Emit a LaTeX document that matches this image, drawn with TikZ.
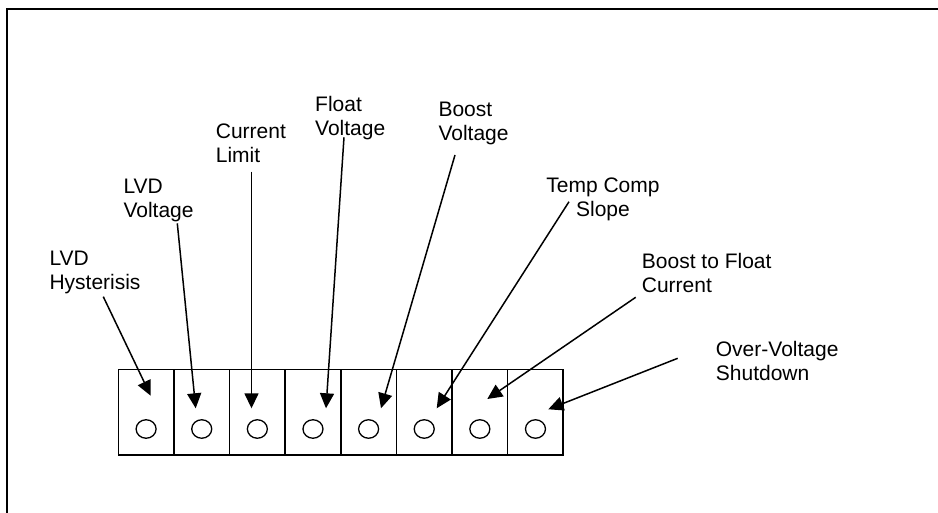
\documentclass[tikz,border=0pt]{standalone}
\usepackage{fontspec}
\setmainfont{Liberation Sans}
\usetikzlibrary{arrows.meta,shapes.geometric}
\begin{document}
\begin{tikzpicture}[x=1pt,y=-1pt,
  cell/.style={draw,line width=1.6pt,rectangle,inner sep=0pt,minimum width=55.6pt,minimum height=85.4pt},
  hole/.style={draw,line width=1.3pt,ellipse,inner sep=0pt,minimum width=20pt,minimum height=18.5pt},
  lbl/.style={inner sep=0pt,anchor=base west,align=left,font=\fontsize{21}{24}\selectfont},
  ptr/.style={line width=1.5pt,-{Triangle[length=15pt,width=14pt]}}]
\useasboundingbox (0,0) rectangle (938,513);
% outer frame (partly visible)
\coordinate (fbl) at (6.5,513);
\coordinate (ftl) at (6.5,9.5);
\coordinate (ftr) at (938,9.5);
\draw[line width=2pt] (fbl) -- (ftl) -- (ftr);
% cells and holes
\foreach \i in {1,...,8}{
  \node[cell] (c\i) at ({146.1+55.625*(\i-1)},412) {};
  \node[hole] (k\i) at ({146.1+55.625*(\i-1)},429) {};
}
% labels (anchor = baseline of last line)
\node[lbl] (t1) at (49.3,289.3) {LVD\\Hysterisis};
\node[lbl] (t2) at (123.3,217.8) {LVD\\Voltage};
\node[lbl] (t3) at (215.7,162.8) {Current\\Limit};
\node[lbl] (t4) at (315,136) {Float\\Voltage};
\node[lbl] (t5) at (438.3,140.3) {Boost\\Voltage};
\node[lbl,align=center,anchor=base] (t6) at (603,216.2) {Temp Comp\\Slope};
\node[lbl] (t7) at (641.7,292.8) {Boost to Float\\Current};
\node[lbl] (t8) at (715.7,380.3) {Over-Voltage\\Shutdown};
% arrow ends
\coordinate (a1) at (103.3,296.7); \coordinate (b1) at (150.7,395.7);
\coordinate (a2) at (177.3,223.3); \coordinate (b2) at (195.7,408.3);
\coordinate (a3) at (251.5,171.7); \coordinate (b3) at (251.5,408.3);
\coordinate (a4) at (344,137.3);   \coordinate (b4) at (326,408.3);
\coordinate (a5) at (455,155);     \coordinate (b5) at (381,408.3);
\coordinate (a6) at (569,201.7);   \coordinate (b6) at (436.7,408.3);
\coordinate (a7) at (635.7,297.3); \coordinate (b7) at (487.3,399);
\coordinate (a8) at (677.7,358.3); \coordinate (b8) at (548.3,409.3);
\foreach \i in {1,...,8}{ \draw[ptr] (a\i) -- (b\i); }
\end{tikzpicture}
\end{document}
